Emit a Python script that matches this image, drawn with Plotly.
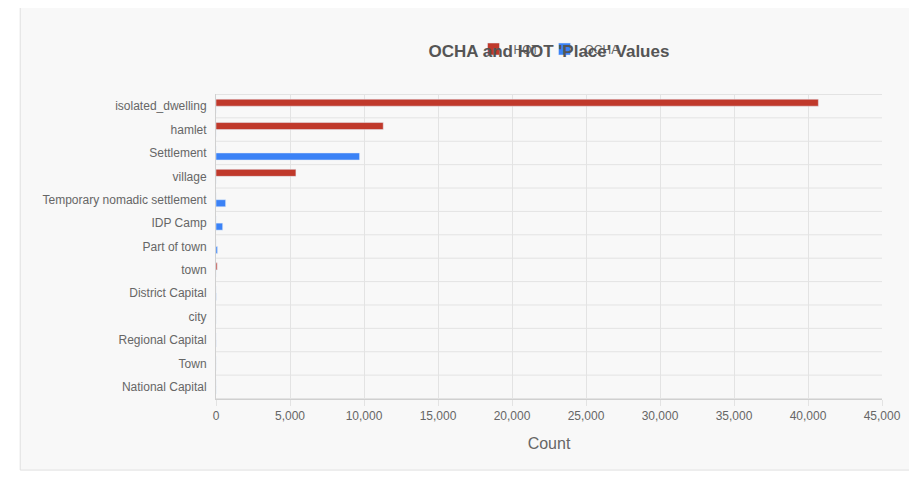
import plotly.graph_objects as go

categories = ["isolated_dwelling", "hamlet", "Settlement", "village", "Temporary nomadic settlement",
              "IDP Camp", "Part of town", "town", "District Capital", "city", "Regional Capital",
              "Town", "National Capital"]
hot_values = [40700, 11300, 0, 5400, 0, 0, 0, 80, 0, 0, 0, 0, 0]
ocha_values = [0, 0, 9700, 0, 650, 450, 100, 0, 10, 0, 5, 0, 2]
x_ticks = list(range(0, 45001, 5000))

fig = go.Figure()
fig.add_trace(go.Bar(y=categories, x=hot_values, name="HOT", orientation="h",
                     marker=dict(color="#c0392b")))
fig.add_trace(go.Bar(y=categories, x=ocha_values, name="OCHA", orientation="h",
                     marker=dict(color="#3b82f6")))

shapes = [dict(type="rect", xref="paper", yref="paper", x0=-0.294, x1=1.07, y0=-0.233, y1=1.292,
               fillcolor="#f8f8f8", line=dict(color="#e0e0e0", width=1), layer="below")]
for i in range(len(categories) + 1):
    shapes.append(dict(type="line", xref="paper", yref="y", x0=0, x1=1, y0=i - 0.5, y1=i - 0.5,
                       line=dict(color="#e3e3e3", width=1), layer="below"))

fig.update_layout(
    width=917, height=483,
    margin=dict(l=208, r=43, t=86, b=92),
    paper_bgcolor="white", plot_bgcolor="rgba(0,0,0,0)",
    font=dict(family="Liberation Sans, Arial, sans-serif", color="#666", size=12),
    title=dict(text="<b>OCHA and HOT 'Place' Values</b>", x=0.5, xref="paper", xanchor="center",
               y=0.91, yanchor="middle", font=dict(size=17, color="#555")),
    barmode="group", bargap=0.4, bargroupgap=0,
    legend=dict(orientation="h", x=0.5, xref="paper", xanchor="center", y=1.10, yanchor="bottom",
                bgcolor="rgba(0,0,0,0)", font=dict(size=12, color="#666")),
    xaxis=dict(range=[0, 45000], tickvals=x_ticks, tickformat=",", showgrid=True,
               gridcolor="#e3e3e3", zeroline=False, showline=True, linecolor="#d0d0d0",
               ticks="outside", ticklen=6, tickcolor="#e3e3e3",
               title=dict(text="Count", font=dict(size=16, color="#666"))),
    yaxis=dict(autorange="reversed", showgrid=False, showline=True, linecolor="#d0d0d0",
               ticks="", ticklabelstandoff=6),
    shapes=shapes,
)
fig.write_html("out.html")
